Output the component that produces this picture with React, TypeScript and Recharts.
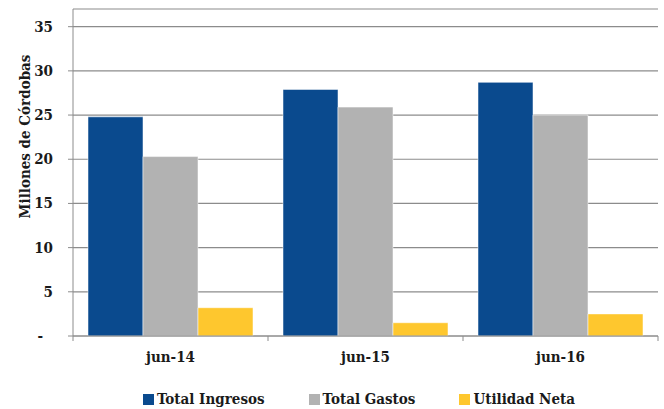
import React from 'react';
import { BarChart, Bar, XAxis, YAxis, CartesianGrid, Legend } from 'recharts';

const periods = ['jun-14', 'jun-15', 'jun-16'];
const totalIngresos = [24.8, 27.9, 28.7];
const totalGastos = [20.3, 25.9, 25.0];
const utilidadNeta = [3.2, 1.5, 2.5];
const yTicks = [0, 5, 10, 15, 20, 25, 30, 35];
const seriesNames = ['Total Ingresos', 'Total Gastos', 'Utilidad Neta'];

const data = periods.map((p, i) => ({
  period: p,
  ingresos: totalIngresos[i],
  gastos: totalGastos[i],
  utilidad: utilidadNeta[i],
}));

const FONT = 'DejaVu Serif Condensed, DejaVu Serif, serif';
const AXIS = '#8c8c8c';

const XTick = (props: any) => {
  const { x, y, payload, index, visibleTicksCount } = props;
  const half = payload.offset || 97.8;
  const last = index === (visibleTicksCount ?? 3) - 1;
  return (
    <g>
      <line x1={x - half} x2={x - half} y1={y} y2={y + 5} stroke={AXIS} />
      {last && <line x1={x + half} x2={x + half} y1={y} y2={y + 5} stroke={AXIS} />}
      <text x={x} y={y + 26} textAnchor="middle" fontFamily={FONT} fontWeight="bold" fontSize={15} fill="#1a1a1a">
        {payload.value}
      </text>
    </g>
  );
};

const YTick = (props: any) => {
  const { x, y, payload } = props;
  const zero = payload.value === 0;
  return (
    <text x={zero ? x - 10 : x} y={y + 5} textAnchor="end" fontFamily={FONT} fontWeight="bold" fontSize={15} fill="#1a1a1a">
      {zero ? '-' : payload.value}
    </text>
  );
};

const LegendContent = (props: any) => {
  const items = [...(props.payload || [])].sort(
    (a: any, b: any) => seriesNames.indexOf(a.value) - seriesNames.indexOf(b.value)
  );
  return (
    <div style={{ display: 'flex', justifyContent: 'center', paddingLeft: 60, paddingTop: 5, fontFamily: FONT, fontWeight: 'bold', fontSize: 15, color: '#1a1a1a' }}>
      {items.map((item: any, i: number) => (
        <div key={i} style={{ display: 'flex', alignItems: 'center', marginLeft: i ? 44 : 0 }}>
          <span style={{ width: 11, height: 11, background: item.color, marginRight: 3, display: 'inline-block' }} />
          <span>{item.value}</span>
        </div>
      ))}
    </div>
  );
};

const YLabel = (props: any) => {
  const vb = props.viewBox || { x: 0, y: 9, width: 73, height: 327 };
  const cx = vb.x + 25;
  const cy = vb.y + vb.height / 2 - 36;
  return (
    <text x={cx} y={cy} transform={`rotate(-90, ${cx}, ${cy})`} textAnchor="middle" dominantBaseline="central"
      fontFamily={FONT} fontWeight="bold" fontSize={15} fill="#1a1a1a">
      Millones de Córdobas
    </text>
  );
};

export default function App() {
  return (
    <div style={{ position: 'absolute', left: 0, top: 0, background: '#fff' }}>
      <BarChart width={664} height={409} data={data} margin={{ top: 9, right: 6, bottom: 0, left: 0 }}
        barCategoryGap={15} barGap={0}>
        <CartesianGrid vertical={false} stroke={AXIS} strokeWidth={1.2} />
        <XAxis dataKey="period" height={49} stroke={AXIS} tickLine={false} tickSize={0} tickMargin={0} tick={<XTick />} />
        <YAxis domain={[0, 37]} ticks={yTicks} width={73} stroke={AXIS} tickSize={5} tickMargin={15}
          tick={<YTick />} label={<YLabel />} />
        <Legend verticalAlign="bottom" content={<LegendContent />} wrapperStyle={{ height: 24 }} />
        <Bar dataKey="ingresos" name={seriesNames[0]} fill="#0a4a8e" stroke="#ffffff" strokeOpacity={0.5} isAnimationActive={false} />
        <Bar dataKey="gastos" name={seriesNames[1]} fill="#b2b2b2" stroke="#ffffff" strokeOpacity={0.5} isAnimationActive={false} />
        <Bar dataKey="utilidad" name={seriesNames[2]} fill="#fec72e" stroke="#ffffff" strokeOpacity={0.5} isAnimationActive={false} />
      </BarChart>
    </div>
  );
}
